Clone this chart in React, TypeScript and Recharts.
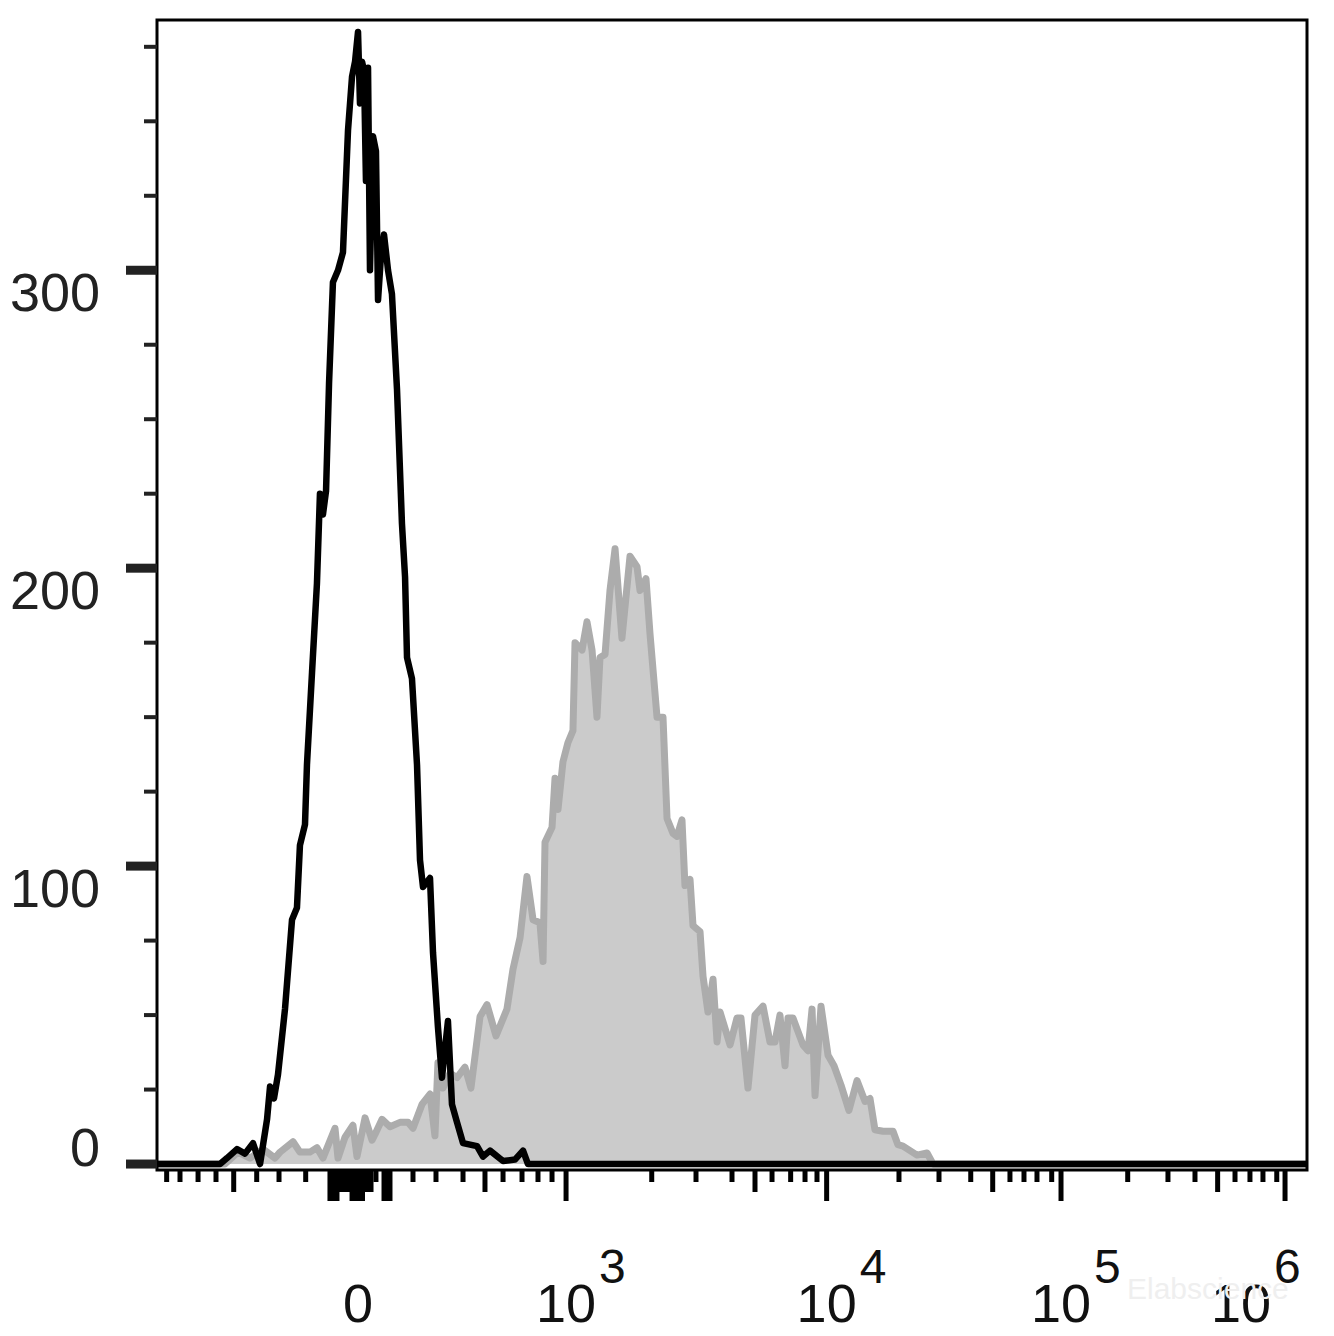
import { ComposedChart, Line, Area, XAxis, YAxis, ReferenceArea } from 'recharts'

// x values are display channels (0-1000 across the biexponential axis), y values are cell counts
const UNSTAINED: [number, number][] = [
  [0, 0], [54.8, 0], [60.9, 2], [69.6, 5], [76.5, 3.5], [83.5, 7], [89.6, 0], [95.7, 15],
  [98.3, 26], [101.7, 22], [105.2, 30], [111.3, 52], [117.4, 82], [121.7, 86], [124.3, 107],
  [128.7, 114], [130.4, 134], [134.8, 165], [139.1, 195], [141.7, 225], [144.3, 218],
  [147.0, 226], [149.6, 262], [153.0, 296], [157.4, 300], [161.7, 306], [166.1, 347],
  [169.6, 365], [172.2, 370], [174.8, 380], [176.5, 356], [178.3, 370], [180.0, 367],
  [181.7, 330], [183.5, 368], [185.2, 300], [187.8, 345], [190.4, 340], [192.2, 290],
  [194.8, 305], [197.4, 312], [200.9, 300], [204.3, 292], [208.7, 260], [213.0, 215],
  [215.7, 197], [217.4, 170], [221.7, 163], [226.1, 134], [228.7, 102], [231.3, 93],
  [237.4, 96], [240.0, 71], [244.3, 46], [247.8, 29], [253.0, 48], [256.5, 20], [260.9, 14],
  [266.1, 7], [278.3, 6], [283.5, 2.5], [289.6, 4.5], [300.9, 1], [311.3, 1.5], [318.3, 4.5],
  [322.6, 0], [1000, 0],
]

const STAINED: [number, number][] = [
  [0, 0], [59.1, 0], [70.4, 4], [80.9, 2], [92.2, 5], [102.6, 2], [107.0, 4], [118.3, 7.5],
  [124.3, 4], [133.0, 4], [139.1, 5.5], [144.3, 2], [154.8, 12], [157.4, 2], [163.5, 9],
  [170.4, 13], [173.9, 2.5], [180.9, 15.5], [187.0, 8], [189.6, 10], [195.7, 15], [202.6, 12.5],
  [211.3, 14], [218.3, 14], [222.6, 12], [230.4, 20], [237.4, 23.5], [241.7, 9.5], [244.3, 34],
  [248.7, 25.5], [254.8, 30.5], [260.9, 29], [267.8, 32.5], [273.0, 25.5], [280.9, 49.5],
  [287.0, 53.5], [294.8, 43], [304.3, 52], [309.6, 65.5], [315.7, 76], [321.7, 96.5],
  [327.0, 82], [333.0, 81], [335.7, 68], [337.4, 108], [343.5, 113], [346.1, 129.5],
  [348.7, 119], [353.0, 135], [357.4, 141.5], [361.7, 145.5], [363.5, 175], [369.6, 172.5],
  [373.9, 182], [378.3, 172.5], [382.6, 150], [385.2, 170], [389.6, 171], [393.9, 192.5],
  [398.3, 206.5], [404.3, 176.5], [411.3, 204], [417.4, 200.5], [420.0, 192.5], [425.2, 196.5],
  [428.7, 178], [434.8, 150], [440.0, 150], [443.5, 116], [448.7, 111], [452.2, 110],
  [456.5, 115.5], [459.1, 93.5], [463.5, 95.5], [466.1, 80], [472.2, 78], [474.8, 63],
  [479.1, 51], [483.5, 62], [487.0, 41], [489.6, 51], [498.3, 40], [504.3, 49], [507.8, 49],
  [513.9, 25.5], [520.0, 50], [527.0, 53], [533.0, 41], [537.4, 41], [541.7, 50], [546.1, 33],
  [548.7, 49], [553.0, 49], [561.7, 40], [566.1, 38], [569.6, 52], [572.2, 23], [577.4, 53],
  [583.5, 36.5], [588.7, 33], [594.8, 26.5], [601.7, 18], [608.7, 28], [615.7, 21], [620.0, 22],
  [624.3, 11.5], [631.3, 11], [640.0, 11], [644.3, 6.5], [648.7, 6], [660.9, 3], [669.6, 3.7],
  [674.8, 0], [1000, 0],
]

const X_LONG = [
  150.4, 153.9, 156.5, 169.6, 172.6, 174.8, 178.7, 197.4, 200.0, 202.6,
  355.7, 582.3, 786.1, 980.9,
]
const X_MEDIUM = [66.7, 160.0, 163.5, 167.0, 182.6, 186.1, 285.2, 520.0, 726.7, 922.3]
const X_SHORT = [
  8.4, 20.0, 35.7, 51.3, 86.7, 106.1, 129.3, 190.4, 222.6, 242.6, 266.1, 300.9, 317.4, 331.3,
  343.5, 430.2, 468.7, 500.0, 534.8, 551.0, 563.5, 573.9, 645.2, 680.0, 707.6, 741.7, 753.9,
  765.2, 778.0, 844.1, 879.1, 902.6, 937.4, 950.4, 961.7, 973.7,
]
const X_LABELS = [
  { at: 174.8, base: '0', exp: '' },
  { at: 355.7, base: '10', exp: '3' },
  { at: 582.3, base: '10', exp: '4' },
  { at: 786.1, base: '10', exp: '5' },
  { at: 980.9, base: '10', exp: '6' },
]

const Y_MAJOR = [0, 100, 200, 300]
const Y_MINOR = [25, 50, 75, 125, 150, 175, 225, 250, 275, 325, 350, 375]

const FONT = '"Liberation Sans", Arial, sans-serif'

const unstainedData = UNSTAINED.map(([ch, count]) => ({ ch, count }))
const stainedData = STAINED.map(([ch, count]) => ({ ch, count }))
const xTicks = [...X_SHORT, ...X_MEDIUM, ...X_LONG].sort((a, b) => a - b)
const yTicks = [...Y_MAJOR, ...Y_MINOR].sort((a, b) => a - b)

function XTick({ x, y, payload }: any) {
  const v = payload.value
  const len = X_LONG.includes(v) ? 31 : X_MEDIUM.includes(v) ? 22 : 12
  const label = X_LABELS.find((l) => l.at === v)
  const last = label && label === X_LABELS[X_LABELS.length - 1]
  const cx = x + (last ? -44 : 0)
  return (
    <g>
      <line x1={x} x2={x} y1={y} y2={y + len} stroke="#000" strokeWidth={5} />
      {label && (
        <g fontFamily={FONT} fill="#111">
          <text x={cx} y={y + 152} textAnchor="middle" fontSize={54}>{label.base}</text>
          {label.exp && (
            <text x={cx + 33} y={y + 113} textAnchor="start" fontSize={48}>{label.exp}</text>
          )}
        </g>
      )}
    </g>
  )
}

function YTick({ x, y, payload }: any) {
  const v = payload.value
  const major = Y_MAJOR.includes(v)
  return (
    <g>
      <line
        x1={x - (major ? 31 : 13)}
        x2={x}
        y1={y}
        y2={y}
        stroke="#222"
        strokeWidth={major ? 9 : 4}
      />
      {major && (
        <text
          x={x - 57}
          y={v === 0 ? y + 2 : y + 41}
          textAnchor="end"
          fontSize={54}
          fontFamily={FONT}
          fill="#222"
        >
          {v}
        </text>
      )}
    </g>
  )
}

export default function App() {
  return (
    <div style={{ position: 'absolute', left: 0, top: 0, width: 1334, height: 1336, background: '#fff' }}>
      <ComposedChart width={1334} height={1336} margin={{ top: 20, right: 27, bottom: 0, left: 0 }}>
        <XAxis
          dataKey="ch"
          type="number"
          domain={[0, 1000]}
          ticks={xTicks}
          interval={0}
          height={166}
          tickSize={0}
          tickMargin={0}
          tickLine={false}
          axisLine={false}
          tick={<XTick />}
        />
        <YAxis
          type="number"
          domain={[-2, 384]}
          ticks={yTicks}
          interval={0}
          width={157}
          tickSize={0}
          tickMargin={0}
          tickLine={false}
          axisLine={false}
          allowDataOverflow
          tick={<YTick />}
        />
        <Area
          data={stainedData}
          dataKey="count"
          type="linear"
          fill="#cbcbcb"
          fillOpacity={1}
          stroke="#acacac"
          strokeWidth={7}
          strokeLinejoin="round"
          dot={false}
          activeDot={false}
          isAnimationActive={false}
        />
        <Line
          data={unstainedData}
          dataKey="count"
          type="linear"
          stroke="#000"
          strokeWidth={6.5}
          strokeLinejoin="round"
          dot={false}
          activeDot={false}
          isAnimationActive={false}
        />
        <ReferenceArea
          x1={0}
          x2={1000}
          y1={-2}
          y2={384}
          fill="none"
          stroke="#000"
          strokeWidth={3}
          ifOverflow="visible"
        />
      </ComposedChart>
      <div
        style={{
          position: 'absolute',
          left: 1127,
          top: 1272,
          fontFamily: FONT,
          fontSize: 30,
          color: '#efefef',
        }}
      >
        Elabscience
      </div>
    </div>
  )
}
